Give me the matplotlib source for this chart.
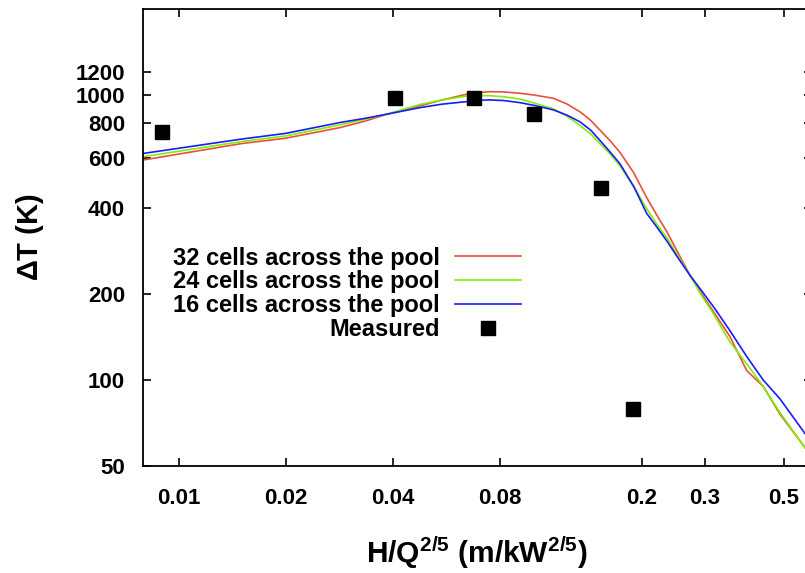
import matplotlib
matplotlib.use("Agg")
import matplotlib.pyplot as plt

plt.rcParams['font.family'] = ['Liberation Sans', 'DejaVu Sans']
plt.rcParams['font.weight'] = 'bold'
plt.rcParams['axes.labelweight'] = 'bold'
plt.rcParams['mathtext.fontset'] = 'custom'
plt.rcParams['mathtext.rm'] = 'Liberation Sans:bold'
plt.rcParams['mathtext.it'] = 'Liberation Sans:bold'
plt.rcParams['mathtext.bf'] = 'Liberation Sans:bold'

# simulated curves
x_sim = [0.00794, 0.0149, 0.02, 0.0284, 0.0335, 0.0385, 0.0476, 0.055, 0.0644,
         0.07, 0.0749, 0.082, 0.091, 0.1, 0.1128, 0.123, 0.1341, 0.1437, 0.1526,
         0.163, 0.1737, 0.19, 0.2064, 0.22, 0.2349, 0.2533, 0.2731, 0.295,
         0.3177, 0.3537, 0.3941, 0.4387, 0.4886, 0.5745, 0.60]
dt_32 = [591, 674, 705, 768, 810, 856, 915, 960, 1005,
         1020, 1026, 1024, 1013, 998, 973, 930, 872, 814, 752,
         690, 628, 532, 436, 380, 332, 278, 233, 200,
         174, 142, 108, 95, 76, 58, 54]
dt_24 = [607, 685, 718, 785, 822, 856, 925, 960, 991,
         995, 993, 985, 966, 935, 893, 843, 781, 729, 675,
         620, 563, 476, 399, 353, 316, 271, 233, 197,
         171, 136, 114, 95, 77, 58, 54]
dt_16 = [623, 699, 733, 800, 828, 856, 902, 928, 947,
         958, 960, 955, 939, 918, 886, 850, 804, 752, 692,
         630, 573, 476, 384, 345, 308, 267, 233, 205,
         181, 149, 121, 100, 86, 65, 60]

# measurements
x_meas = [0.0090, 0.0405, 0.0676, 0.0996, 0.1536, 0.1893]
dt_meas = [740, 973, 978, 856, 470, 79]

xticks = [0.01, 0.02, 0.04, 0.08, 0.2, 0.3, 0.5]
yticks = [50, 100, 200, 400, 600, 800, 1000, 1200]

fig = plt.figure(figsize=(8.05, 5.73), dpi=100)
ax = fig.add_axes([143 / 805, 107 / 573, 668.7 / 805, 457 / 573])

ax.plot(x_sim, dt_32, color='#e8503a', lw=1.2, label='32 cells across the pool')
ax.plot(x_sim, dt_24, color='#80f000', lw=1.2, label='24 cells across the pool')
ax.plot(x_sim, dt_16, color='#1a1aff', lw=1.2, label='16 cells across the pool')
ax.plot(x_meas, dt_meas, 's', color='black', ms=10, label='Measured')

ax.set_xscale('log')
ax.set_yscale('log')
ax.set_xlim(0.00794, 0.60)
ax.set_ylim(50, 2000)
ax.minorticks_off()
ax.set_xticks(xticks)
ax.set_xticklabels([str(v) for v in xticks])
ax.set_yticks(yticks)
ax.set_yticklabels([str(v) for v in yticks])
ax.tick_params(direction='in', length=6, width=1.2, top=True, right=True,
               labelsize=16)
ax.tick_params(axis='x', pad=16)
ax.tick_params(axis='y', pad=13)
for s in ax.spines.values():
    s.set_linewidth(1.3)

ax.set_xlabel(r'H/Q$^{2/5}$ (m/kW$^{2/5}$)', fontsize=21.5, fontweight='bold',
              labelpad=18)
ax.set_ylabel(r'$\Delta$T (K)', fontsize=21, fontweight='bold', labelpad=21)

ax.legend(loc='upper right', bbox_to_anchor=(0.5653, 0.480), frameon=False,
          markerfirst=False, fontsize=17, handlelength=2.8, handletextpad=0.64,
          labelspacing=0.03, borderpad=0, borderaxespad=0)

fig.savefig('out.png', dpi=100)
